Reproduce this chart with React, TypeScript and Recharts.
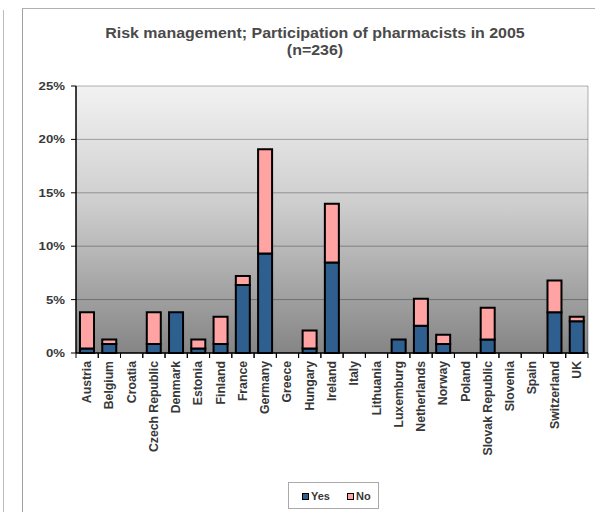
import React from 'react';
import { BarChart, Bar, XAxis, YAxis, CartesianGrid } from 'recharts';

const categories = [
  'Austria', 'Belgium', 'Croatia', 'Czech Republic', 'Denmark', 'Estonia', 'Finland', 'France',
  'Germany', 'Greece', 'Hungary', 'Ireland', 'Italy', 'Lithuania', 'Luxemburg', 'Netherlands',
  'Norway', 'Poland', 'Slovak Republic', 'Slovenia', 'Spain', 'Switzerland', 'UK',
];
const yesValues = [0.42, 0.85, 0, 0.85, 3.81, 0.42, 0.85, 6.36, 9.32, 0, 0.42, 8.47, 0, 0, 1.27, 2.54, 0.85, 0, 1.27, 0, 0, 3.81, 2.97];
const noValues = [3.39, 0.42, 0, 2.97, 0, 0.85, 2.54, 0.85, 9.75, 0, 1.69, 5.51, 0, 0, 0, 2.54, 0.85, 0, 2.97, 0, 0, 2.97, 0.42];
const yTicks = [0, 5, 10, 15, 20, 25];
const titleLines = ['Risk management; Participation of pharmacists in 2005', '(n=236)'];
const seriesNames = ['Yes', 'No'];

const data = categories.map((c, i) => ({ name: c, yes: yesValues[i], no: noValues[i] }));

const W = 595;
const H = 512;
const M = { top: 86, right: 7, left: 26, bottom: 59 };
const Y_W = 50;
const X_H = 100;
const PLOT_W = W - M.left - M.right - Y_W;
const SLOT = PLOT_W / categories.length;

const YES_COLOR = '#2f5f8f';
const NO_COLOR = '#ffa3a3';
const TEXT = '#383838';
const FONT = '"Liberation Sans", Arial, sans-serif';

const YTick = (props: any) => {
  const { x, y, payload } = props;
  return (
    <text
      transform={`translate(${x},${y}) scale(1.2,1)`}
      x={0}
      y={0}
      dy={4}
      textAnchor="end"
      fontSize={11}
      fontWeight="bold"
      fill={TEXT}
      fontFamily={FONT}
    >
      {payload.value}%
    </text>
  );
};

const XTick = (props: any) => {
  const { x, y, payload } = props;
  const half = SLOT / 2;
  return (
    <g>
      <line x1={x - half} y1={y} x2={x - half} y2={y + 5} stroke="#000" strokeWidth={1} />
      <line x1={x + half} y1={y} x2={x + half} y2={y + 5} stroke="#000" strokeWidth={1} />
      <text
        transform={`translate(${x},${y + 8}) rotate(-90) scale(1.02,1)`}
        x={0}
        y={0}
        dy={4}
        textAnchor="end"
        fontSize={12}
        fontWeight="bold"
        fill={TEXT}
        fontFamily={FONT}
      >
        {payload.value}
      </text>
    </g>
  );
};

export default function App() {
  return (
    <div style={{ position: 'absolute', left: 0, top: 0, width: W, height: H, background: '#fff', overflow: 'hidden', fontFamily: FONT }}>
      <div style={{ position: 'absolute', left: 3, top: 10, width: 1, height: H - 10, background: '#bcbcbc' }} />
      <div style={{ position: 'absolute', left: 22, top: 8, width: 1, height: H - 8, background: '#a0a0a0' }} />
      <div style={{ position: 'absolute', left: 22, top: 8, width: W - 22, height: 1, background: '#b0b0b0' }} />

      <div
        style={{
          position: 'absolute',
          left: 35,
          top: 25,
          width: 560,
          textAlign: 'center',
          fontSize: 14,
          lineHeight: '17px',
          fontWeight: 'bold',
          color: '#4a4a4a',
          transform: 'scaleX(1.14)',
          transformOrigin: 'center',
        }}
      >
        {titleLines.map((t) => (
          <div key={t}>{t}</div>
        ))}
      </div>

      <div style={{ position: 'absolute', left: 0, top: 0 }}>
        <BarChart width={W} height={H} data={data} margin={M} barSize={14}>
          <defs>
            <linearGradient id="plotBg" x1="0" y1="0" x2="0" y2="1">
              <stop offset="0%" stopColor="#f2f2f2" />
              <stop offset="45%" stopColor="#cdcdcd" />
              <stop offset="100%" stopColor="#858585" />
            </linearGradient>
          </defs>
          <CartesianGrid
            fill="url(#plotBg)"
            stroke="#000"
            strokeOpacity={0.3}
            vertical={true}
            verticalCoordinatesGenerator={({ offset }: any) => [offset.left + offset.width]}
          />
          <XAxis
            dataKey="name"
            type="category"
            interval={0}
            height={X_H}
            tickSize={0}
            tickMargin={0}
            tickLine={false}
            axisLine={{ stroke: '#000', strokeWidth: 1.5 }}
            tick={<XTick />}
          />
          <YAxis
            width={Y_W}
            domain={[0, 25]}
            ticks={yTicks}
            interval={0}
            tickSize={5}
            tickMargin={6}
            tickLine={{ stroke: '#000' }}
            axisLine={{ stroke: '#000', strokeWidth: 1.5 }}
            tick={<YTick />}
          />
          <Bar dataKey="yes" name={seriesNames[0]} stackId="a" fill={YES_COLOR} stroke="#000" strokeWidth={2} isAnimationActive={false} />
          <Bar dataKey="no" name={seriesNames[1]} stackId="a" fill={NO_COLOR} stroke="#000" strokeWidth={2} isAnimationActive={false} />
        </BarChart>
      </div>

      <div style={{ position: 'absolute', left: 288, top: 482, width: 91, height: 27, border: '1px solid #aaa', boxSizing: 'border-box' }} />
      {seriesNames.map((s, i) => (
        <div key={s} style={{ position: 'absolute', left: i === 0 ? 302 : 347, top: 489, display: 'flex', alignItems: 'center', fontSize: 11, fontWeight: 'bold', color: TEXT, lineHeight: '14px' }}>
          <span style={{ display: 'inline-block', width: 5, height: 5, border: '1px solid #000', background: i === 0 ? YES_COLOR : NO_COLOR, marginRight: 2 }} />
          <span>{s}</span>
        </div>
      ))}
    </div>
  );
}
